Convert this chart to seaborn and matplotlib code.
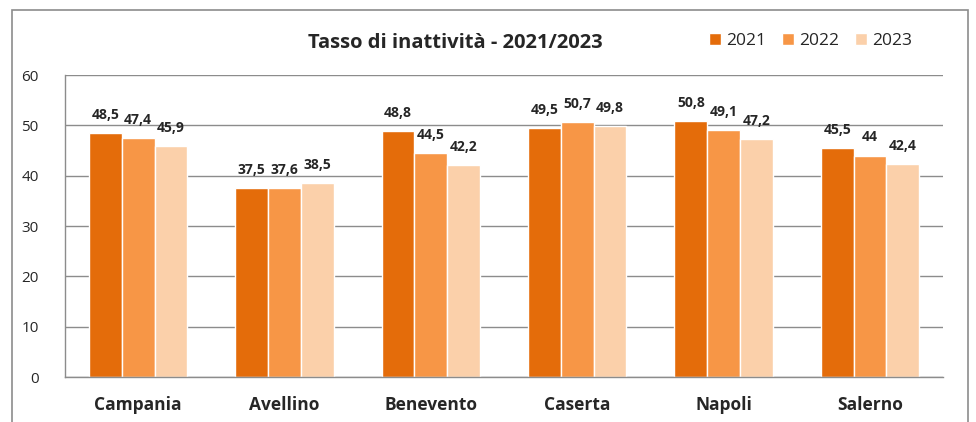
import pandas as pd
import matplotlib.pyplot as plt
import seaborn as sns
from matplotlib.patches import Rectangle

# Dati
province = ["Campania", "Avellino", "Benevento", "Caserta", "Napoli", "Salerno"]
anni = ["2021", "2022", "2023"]
tasso_2021 = [48.5, 37.5, 48.8, 49.5, 50.8, 45.5]
tasso_2022 = [47.4, 37.6, 44.5, 50.7, 49.1, 44.0]
tasso_2023 = [45.9, 38.5, 42.2, 49.8, 47.2, 42.4]
colori = ["#E46C0A", "#F79646", "#FBD0AA"]

df = pd.DataFrame({
    "provincia": province * 3,
    "anno": [a for a in anni for _ in province],
    "tasso": tasso_2021 + tasso_2022 + tasso_2023,
})

sns.set_style("white")
plt.rcParams["font.family"] = ["Open Sans", "DejaVu Sans"]

fig = plt.figure(figsize=(9.76, 4.22), dpi=100)
ax = fig.add_axes([0.0666, 0.1066, 0.8996, 0.7156])

sns.barplot(data=df, x="provincia", y="tasso", hue="anno", palette=colori,
            width=0.67, saturation=1, ax=ax, legend=True)

ax.set_ylim(0, 60)
ax.set_xlim(-0.5, 5.5)
ax.set_yticks(range(0, 61, 10))
ax.yaxis.grid(True, color="#8c8c8c", linewidth=1)
ax.set_axisbelow(True)
ax.set_xlabel("")
ax.set_ylabel("")

for s in ["top", "right"]:
    ax.spines[s].set_visible(False)
for s in ["left", "bottom"]:
    ax.spines[s].set_color("#8c8c8c")
    ax.spines[s].set_linewidth(1)

ax.tick_params(axis="y", labelsize=11, length=5, color="#8c8c8c", direction="out", pad=14)
ax.set_xticks(range(len(province)))
ax.set_xticklabels(province, fontsize=12.5, fontweight="bold")
ax.tick_params(axis="x", length=0, pad=14)
# tacche fra le categorie
ax.set_xticks([i - 0.5 for i in range(len(province) + 1)], minor=True)
ax.tick_params(axis="x", which="minor", length=6, color="#8c8c8c", width=1)

for cont in ax.containers:
    ax.bar_label(cont, labels=[f"{v:g}".replace(".", ",") for v in cont.datavalues],
                 fontsize=10, fontweight="bold", padding=8)

ax.legend(loc="center left", bbox_to_anchor=(0.733, 1.113), ncol=3, frameon=False,
          fontsize=12.5, handlelength=0.7, handleheight=0.7, handletextpad=0.3,
          columnspacing=0.9, borderaxespad=0, borderpad=0)

fig.text(0.466, 0.897, "Tasso di inattività - 2021/2023", ha="center", va="center",
         fontsize=14.5, fontweight="bold")

fig.patches.append(Rectangle((0.012, -0.05), 0.98, 1.026, transform=fig.transFigure,
                             fill=False, edgecolor="#8c8c8c", linewidth=1.2))

fig.savefig("out.png", dpi=100)
